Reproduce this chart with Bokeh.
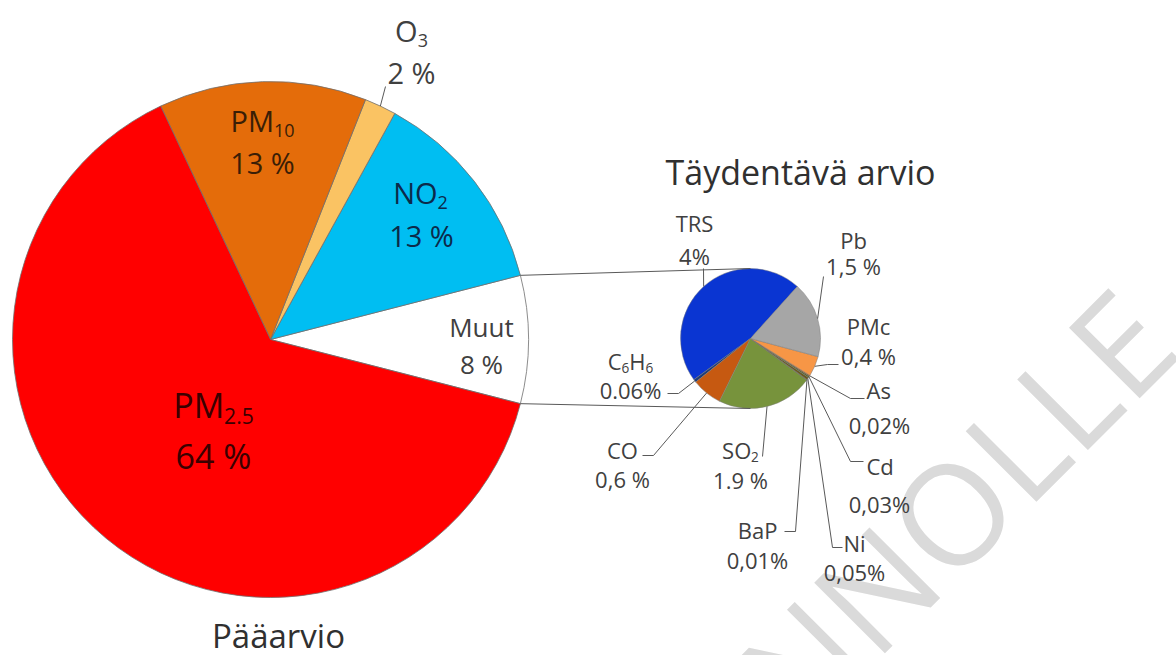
import numpy as np
from bokeh.plotting import figure
from bokeh.models import Range1d, ColumnDataSource
from bokeh.core.properties import value
from bokeh.embed import file_html
from bokeh.resources import INLINE

# ---------------- data ----------------
main_categories = ["Muut", "NO2", "O3", "PM10", "PM2.5"]
main_values = [8, 13, 2, 13, 64]
main_value_labels = ["8 %", "13 %", "2 %", "13 %", "64 %"]

sub_categories = ["TRS", "C6H6", "CO", "SO2", "BaP", "Ni", "Cd", "As", "PMc", "Pb"]
sub_values = [4, 0.06, 0.6, 1.9, 0.01, 0.05, 0.03, 0.02, 0.4, 1.5]
sub_value_labels = ["4%", "0.06%", "0,6 %", "1.9 %", "0,01%", "0,05%", "0,03%", "0,02%", "0,4 %", "1,5 %"]

title_main = "Pääarvio"
title_sub = "Täydentävä arvio"
watermark = "LAUSUNNOLLE"

# ---------------- styles / layout ----------------
FONT = value("Open Sans")
main_colors = {"Muut": "#FFFFFF", "NO2": "#00BEF2", "O3": "#FAC363",
               "PM10": "#E46C0A", "PM2.5": "#FF0000"}
sub_colors = {"TRS": "#0A35D2", "C6H6": "#1F3C78", "CO": "#C65911", "SO2": "#77933C",
              "BaP": "#5A4A2A", "Ni": "#6B5A1E", "Cd": "#4F6228", "As": "#984807",
              "PMc": "#F79646", "Pb": "#A6A6A6"}
BASE_CORR = 0.33  # baseline correction (fraction of font size)

W, H = 1176, 655
def Y(sy):
    return H - sy

p = figure(width=W, height=H, x_range=Range1d(0, W), y_range=Range1d(0, H),
           output_backend="svg", toolbar_location=None, min_border=0,
           x_axis_location=None, y_axis_location=None)
p.grid.visible = False
p.outline_line_color = None
p.background_fill_color = "white"
p.border_fill_color = "white"

# watermark
p.text(x=[1146], y=[Y(314)], text=[watermark], angle=np.pi / 4, text_align="right",
       text_baseline="alphabetic", text_font=FONT, text_font_size="140px",
       text_color="#DADADA")

# ---------------- main pie ----------------
MX, MY, MR = 270, 339, 258
mfr = np.array(main_values, dtype=float) / sum(main_values) * 2 * np.pi
m_start0 = -mfr[0] / 2
m_ends = m_start0 + np.cumsum(mfr)
m_starts = m_ends - mfr
msrc = ColumnDataSource(dict(start=m_starts, end=m_ends,
                             color=[main_colors[c] for c in main_categories]))
p.wedge(x=MX, y=Y(MY), radius=MR, start_angle="start", end_angle="end",
        fill_color="color", line_color="#6E6E6E", line_width=0.8, source=msrc)

# ---------------- secondary pie ----------------
SX, SY, SR = 750, 338, 70
S_START = np.deg2rad(48)
sfr = np.array(sub_values, dtype=float) / sum(sub_values) * 2 * np.pi
s_ends = S_START + np.cumsum(sfr)
s_starts = s_ends - sfr
ssrc = ColumnDataSource(dict(start=s_starts, end=s_ends,
                             color=[sub_colors[c] for c in sub_categories]))
p.wedge(x=SX, y=Y(SY), radius=SR, start_angle="start", end_angle="end",
        fill_color="color", line_color="#7A7A7A", line_width=0.6, line_alpha=0.8,
        source=ssrc)

# connector lines between the pies (from "Muut" slice edges)
top_pt = (MX + MR * np.cos(m_ends[0]), MY - MR * np.sin(m_ends[0]))
bot_pt = (MX + MR * np.cos(m_starts[0]), MY - MR * np.sin(m_starts[0]))
p.multi_line(xs=[[top_pt[0], SX], [bot_pt[0], SX]],
             ys=[[Y(top_pt[1]), Y(SY - SR)], [Y(bot_pt[1]), Y(SY + SR)]],
             line_color="#595959", line_width=1)

# ---------------- text helpers ----------------
ADV = {" ": 0.26, "%": 0.846, ",": 0.245, ".": 0.266, "A": 0.633, "B": 0.635, "C": 0.631,
       "H": 0.738, "M": 0.903, "N": 0.754, "O": 0.779, "P": 0.595, "R": 0.626, "S": 0.539,
       "T": 0.547, "a": 0.556, "b": 0.613, "c": 0.476, "i": 0.253, "u": 0.614, "t": 0.353}
for d in "0123456789":
    ADV[d] = 0.572
SUBF, SUBOFF = 0.62, 0.2

def plain(x, sy, txt, size, color, align="center"):
    p.text(x=[x], y=[Y(sy - BASE_CORR * size)], text=[txt], text_font=FONT,
           text_font_size=f"{size}px", text_color=color, text_align=align,
           text_baseline="alphabetic")

def rich(xc, sy, segments, size, color):
    sizes = [size * SUBF if sub else size for _, sub in segments]
    widths = [sum(ADV.get(ch, 0.55) for ch in t) * fs for (t, _), fs in zip(segments, sizes)]
    x = xc - sum(widths) / 2
    for (t, sub), fs, w in zip(segments, sizes, widths):
        plain(x, sy + (size * SUBOFF if sub else 0), t, round(fs, 1), color, align="left")
        x += w

# ---------------- main pie labels ----------------
mi = {c: i for i, c in enumerate(main_categories)}
rich(262, 130, [("PM", False), ("10", True)], 29, "#3A1E06")
plain(262, 172, main_value_labels[mi["PM10"]], 29, "#3A1E06")
rich(420, 202, [("NO", False), ("2", True)], 29, "#0C2A4A")
plain(421, 245, main_value_labels[mi["NO2"]], 29, "#0C2A4A")
plain(481, 335, "Muut", 26, "#404040")
plain(481, 372, main_value_labels[mi["Muut"]], 26, "#404040")
rich(213, 416, [("PM", False), ("2.5", True)], 34, "#3A0000")
plain(213, 467, main_value_labels[mi["PM2.5"]], 34, "#3A0000")
rich(411, 40, [("O", False), ("3", True)], 29, "#404040")
plain(411, 82, main_value_labels[mi["O3"]], 29, "#404040")
# O3 leader
o3_mid = (m_starts[mi["O3"]] + m_ends[mi["O3"]]) / 2
o3_edge = (MX + MR * np.cos(o3_mid), MY - MR * np.sin(o3_mid))
p.line(x=[o3_edge[0], 385], y=[Y(o3_edge[1]), Y(86)], line_color="#595959", line_width=1)

# ---------------- secondary labels ----------------
sub_layout = {
    "TRS":  (694, 230, 263, [("TRS", False)], [(703, 268)]),
    "Pb":   (853, 247, 273, [("Pb", False)], [(823, 276)]),
    "PMc":  (868, 333, 363, [("PMc", False)], [(827, 364), (838, 364)]),
    "As":   (879, 397, 432, [("As", False)], [(850, 398), (864, 398)]),
    "Cd":   (879, 473, 511, [("Cd", False)], [(850, 461), (863, 461)]),
    "Ni":   (854, 550, 579, [("Ni", False)], [(832, 547), (842, 547)]),
    "BaP":  (757, 537, 567, [("BaP", False)], [(795, 531), (784, 531)]),
    "SO2":  (740, 457, 487, [("SO", False), ("2", True)], [(762, 456)]),
    "CO":   (622, 457, 486, [("CO", False)], [(653, 455), (642, 455)]),
    "C6H6": (630, 368, 397, [("C", False), ("6", True), ("H", False), ("6", True)],
             [(678, 393), (667, 393)]),
}
lxs, lys = [], []
for i, c in enumerate(sub_categories):
    xc, b1, b2, segs, pts = sub_layout[c]
    rich(xc, b1, segs, 22, "#404040")
    plain(xc, b2, sub_value_labels[i], 22, "#404040")
    mid = (s_starts[i] + s_ends[i]) / 2
    ex, ey = SX + SR * np.cos(mid), SY - SR * np.sin(mid)
    lxs.append([ex] + [q[0] for q in pts])
    lys.append([Y(ey)] + [Y(q[1]) for q in pts])
p.multi_line(xs=lxs, ys=lys, line_color="#595959", line_width=1)

# ---------------- titles ----------------
plain(800, 183, title_sub, 34, "#303030")
plain(278, 646, title_main, 33, "#303030")

open("out.html", "w").write(file_html(p, INLINE))
